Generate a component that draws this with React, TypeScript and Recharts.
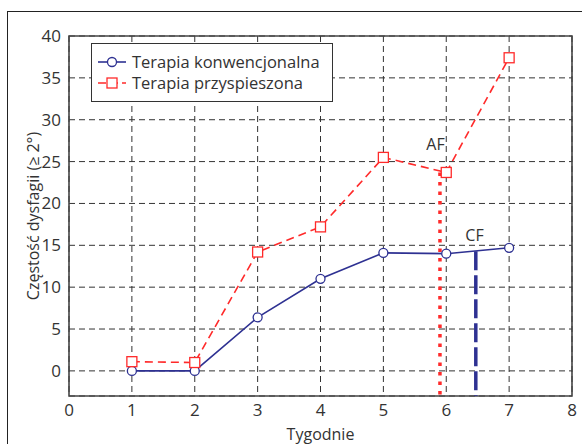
import React from 'react'
import {
  LineChart,
  Line,
  XAxis,
  YAxis,
  CartesianGrid,
  ReferenceLine,
  ReferenceArea,
  ReferenceDot,
} from 'recharts'

const weeks = [1, 2, 3, 4, 5, 6, 7]
const conventional = [0, 0, 6.4, 11, 14.1, 14, 14.7]
const accelerated = [1.1, 1.0, 14.2, 17.2, 25.5, 23.7, 37.4]
const xTicks = [0, 1, 2, 3, 4, 5, 6, 7, 8]
const yTicks = [0, 5, 10, 15, 20, 25, 30, 35, 40]

// punkty końcowe linii AF i CF
const afWeek = 5.9
const afValue = 23.7
const cfWeek = 6.47
const cfValue = 14.3

const BLUE = '#2e3192'
const RED = '#ff2a2a'
const FONT = '"Open Sans", "Noto Sans", sans-serif'

const data = weeks.map((w, i) => ({
  week: w,
  conv: conventional[i],
  acc: accelerated[i],
}))

function CircleDot(props: any) {
  const { cx, cy } = props
  if (cx == null || cy == null) return null
  return <circle cx={cx} cy={cy} r={4.5} fill="#fff" stroke={BLUE} strokeWidth={1.3} />
}

function SquareDot(props: any) {
  const { cx, cy } = props
  if (cx == null || cy == null) return null
  return <rect x={cx - 5} y={cy - 5} width={10} height={10} fill="#fff" stroke={RED} strokeWidth={1.3} />
}

function LegendBox() {
  const row = (label: string, color: string, dash: string | undefined, square: boolean) => (
    <div style={{ display: 'flex', alignItems: 'center', height: 21 }}>
      <svg width={32} height={14} style={{ marginRight: 4 }}>
        <line x1={2} y1={7} x2={30} y2={7} stroke={color} strokeWidth={1.6} strokeDasharray={dash} />
        {square ? (
          <rect x={11} y={2} width={10} height={10} fill="#fff" stroke={color} strokeWidth={1.3} />
        ) : (
          <circle cx={16} cy={7} r={4.5} fill="#fff" stroke={color} strokeWidth={1.3} />
        )}
      </svg>
      <span>{label}</span>
    </div>
  )
  return (
    <div
      style={{
        position: 'absolute',
        left: 91,
        top: 43,
        boxSizing: 'border-box',
        width: 242,
        height: 59,
        border: '1.5px solid #333',
        background: '#fff',
        padding: '7px 6px 7px 4px',
        fontFamily: FONT,
        fontSize: 16.5,
        color: '#333',
      }}
    >
      {row('Terapia konwencjonalna', BLUE, undefined, false)}
      {row('Terapia przyspieszona', RED, '8 4', true)}
    </div>
  )
}

export default function App() {
  return (
    <div style={{ position: 'absolute', left: 0, top: 0, width: 582, height: 444, background: '#fff' }}>
      <div
        style={{
          position: 'absolute',
          left: 7,
          top: 11,
          width: 600,
          height: 500,
          borderLeft: '1.5px solid #222',
          borderTop: '1.5px solid #222',
        }}
      />
      <div style={{ position: 'absolute', left: 0, top: 0 }}>
        <LineChart width={582} height={444} data={data} margin={{ top: 36, right: 10, left: 19, bottom: 18 }}>
          <CartesianGrid stroke="#333" strokeDasharray="6 4" />
          <XAxis
            type="number"
            dataKey="week"
            domain={[0, 8]}
            ticks={xTicks}
            tickLine={false}
            axisLine={false}
            tick={{ fontSize: 17, fill: '#333', fontFamily: FONT }}
            label={{ value: 'Tygodnie', position: 'bottom', offset: 3, style: { fontSize: 16, fill: '#333', fontFamily: FONT } }}
          />
          <YAxis
            type="number"
            domain={[-3, 40]}
            ticks={yTicks}
            width={50}
            tickLine={false}
            axisLine={false}
            tick={{ fontSize: 17, fill: '#333', fontFamily: FONT }}
            label={{
              value: 'Częstość dysfagii (≥ 2°)',
              angle: -90,
              position: 'insideLeft',
              offset: 14,
              style: { textAnchor: 'middle', fontSize: 16, fill: '#333', fontFamily: FONT },
            }}
          />
          <ReferenceArea x1={0} x2={8} y1={-3} y2={40} fill="none" stroke="#444" strokeWidth={1.6} />
          <ReferenceLine
            segment={[{ x: afWeek, y: afValue }, { x: afWeek, y: -3 }]}
            stroke={RED}
            strokeWidth={3.5}
            strokeDasharray="3.5 6"
          />
          <ReferenceLine
            segment={[{ x: cfWeek, y: cfValue }, { x: cfWeek, y: -3 }]}
            stroke={BLUE}
            strokeWidth={3.5}
            strokeDasharray="19 5"
          />
          <ReferenceDot
            x={5.83}
            y={27.1}
            r={0}
            label={{ value: 'AF', position: 'center', style: { fontSize: 16, fill: '#333', fontFamily: FONT } }}
          />
          <ReferenceDot
            x={6.45}
            y={16.2}
            r={0}
            label={{ value: 'CF', position: 'center', style: { fontSize: 16, fill: '#333', fontFamily: FONT } }}
          />
          <Line
            dataKey="conv"
            stroke={BLUE}
            strokeWidth={1.6}
            dot={<CircleDot />}
            activeDot={false}
            isAnimationActive={false}
          />
          <Line
            dataKey="acc"
            stroke={RED}
            strokeWidth={1.6}
            strokeDasharray="8 5"
            dot={<SquareDot />}
            activeDot={false}
            isAnimationActive={false}
          />
        </LineChart>
      </div>
      <LegendBox />
    </div>
  )
}
